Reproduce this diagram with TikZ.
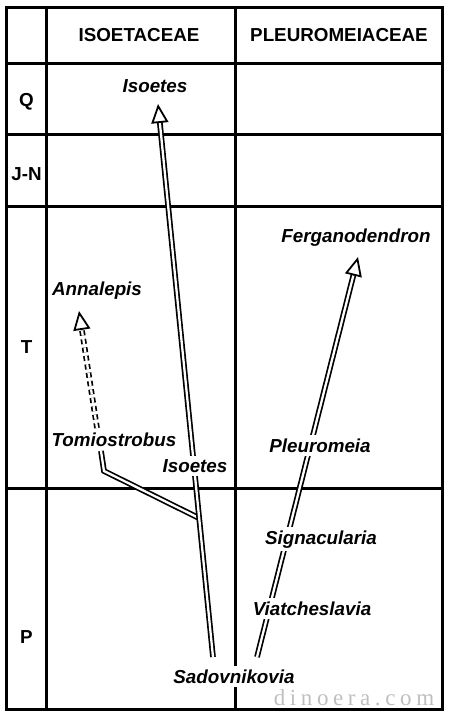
\documentclass[tikz,border=0pt]{standalone}
\usepackage{fontspec}
\setmainfont{Liberation Sans}
\newfontfamily\sitefont[LetterSpace=20]{Liberation Serif}
\usetikzlibrary{arrows.meta,calc}
\tikzset{
  tableline/.style={line width=3pt},
  head/.style={font=\bfseries\fontsize{18.8}{20}\selectfont, anchor=base, inner sep=0pt},
  taxon/.style={font=\bfseries\itshape\fontsize{18.8}{20}\selectfont, fill=white, inner sep=3.5pt, anchor=base},
  lineage/.style={double, line width=1.7pt, double distance=2.3pt},
  opentip/.style={-{Triangle[fill=white, length=19pt, width=17pt]}, line width=1.8pt},
  watermark/.style={font=\sitefont\fontsize{23}{24}\selectfont, text=gray!50, anchor=base, inner sep=0pt}
}
\begin{document}
\begin{tikzpicture}[x=1pt,y=-1pt]
        \useasboundingbox (0,0) rectangle (449,716);
        % table
        \draw[tableline] (6.5,7.5) rectangle (442.5,709);
        \foreach \y in {63,134.5,206,488.5}
          \draw[tableline] (6.5,\y) -- (442.5,\y);
        \foreach \x in {46.5,235}
          \draw[tableline] (\x,7.5) -- (\x,709);
        \node[head] (isoetaceae) at (139,41) {ISOETACEAE};
        \node[head] (pleuromeiaceae) at (339,41) {PLEUROMEIACEAE};
        \node[head] (Q) at (26.5,106) {Q};
        \node[head] (JN) at (26.5,180) {J-N};
        \node[head] (T) at (26.5,353) {T};
        \node[head] (P) at (26.5,643) {P};
        % lineages
        \coordinate (isoS) at (213,657);
        \coordinate (isoE) at (158,104);
        \coordinate (fergS) at (257,657);
        \coordinate (fergE) at (358,257);
        \coordinate (annaS) at (97,428);
        \coordinate (annaE) at (79,311);
        \coordinate (tomioS) at (101,451);
        \coordinate (bend) at (104,471);
        \coordinate (fork) at ($(isoS)!0.251!(isoE)$);
        \draw[lineage] (tomioS) -- (bend) -- (fork);
        \draw[lineage] (isoS) -- ($(isoE)!18pt!(isoS)$);
        \draw[lineage] (fergS) -- ($(fergE)!18pt!(fergS)$);
        \draw[lineage, dash pattern=on 5pt off 3.5pt] (annaS) -- ($(annaE)!18pt!(annaS)$);
        \draw[opentip] ($(isoE)!19pt!(isoS)$) -- (isoE);
        \draw[opentip] ($(fergE)!19pt!(fergS)$) -- (fergE);
        \draw[opentip] ($(annaE)!19pt!(annaS)$) -- (annaE);
        % taxa
        \node[taxon] (isoQ) at (155,92) {Isoetes};
        \node[taxon] (anna) at (97,295) {Annalepis};
        \node[taxon] (ferg) at (356,242) {Ferganodendron};
        \node[taxon] (tomio) at (114,446) {Tomiostrobus};
        \node[taxon] (isoP) at (195,472) {Isoetes};
        \node[taxon] (pleuro) at (320,452) {Pleuromeia};
        \node[taxon] (signa) at (321,544) {Signacularia};
        \node[taxon] (viat) at (312,615) {Viatcheslavia};
        \node[taxon] (sado) at (234,683) {Sadovnikovia};
        \node[watermark] (site) at (354,705) {dinoera.com};
\end{tikzpicture}
\end{document}
